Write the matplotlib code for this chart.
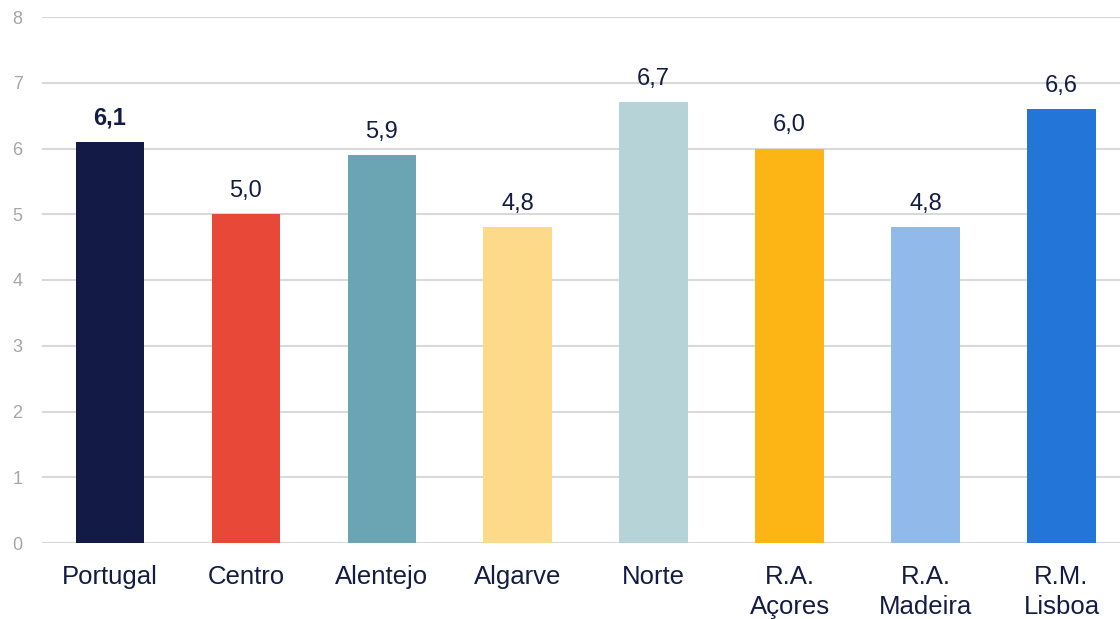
import matplotlib
matplotlib.use("Agg")
import matplotlib.pyplot as plt

plt.rcParams['font.family'] = ['Liberation Sans', 'DejaVu Sans']

categories = ["Portugal", "Centro", "Alentejo", "Algarve", "Norte", "R.A.\nAçores", "R.A.\nMadeira", "R.M.\nLisboa"]
values = [6.1, 5.0, 5.9, 4.8, 6.7, 6.0, 4.8, 6.6]
labels = ["6,1", "5,0", "5,9", "4,8", "6,7", "6,0", "4,8", "6,6"]
colors = ["#131a45", "#e84837", "#6ba5b4", "#fdd98a", "#b6d3d8", "#fdb515", "#91baea", "#2375d8"]
yticks = [0, 1, 2, 3, 4, 5, 6, 7, 8]

navy = "#141b45"

fig = plt.figure(figsize=(11.2, 6.19), dpi=100)
ax = fig.add_axes([42/1120, 76/619, 1078/1120, 526/619])

x = list(range(len(categories)))
bars = ax.bar(x, values, width=0.505, color=colors, zorder=3)

for i, (b, lab) in enumerate(zip(bars, labels)):
    ax.annotate(lab, (b.get_x() + b.get_width()/2, b.get_height()),
                xytext=(0, 9), textcoords="offset points", ha="center", va="bottom",
                fontsize=17, color=navy, fontweight="bold" if i == 0 else "normal")

ax.set_xlim(-0.5, 7.43)
ax.set_ylim(0, 8)
ax.set_yticks(yticks)
ax.set_yticklabels([str(t) for t in yticks])
ax.set_xticks(x)
ax.set_xticklabels(categories, fontsize=18.5, color=navy, linespacing=1.32)
ax.tick_params(axis='x', length=0, pad=16)
ax.tick_params(axis='y', length=0, pad=14, labelsize=13, labelcolor="#a6a6a6")
for lab in ax.get_yticklabels():
    lab.set_horizontalalignment('right')
ax.grid(axis='y', color="#d9d9d9", linewidth=1.5, zorder=0)
for s in ax.spines.values():
    s.set_visible(False)

fig.savefig("out.png", dpi=100)
